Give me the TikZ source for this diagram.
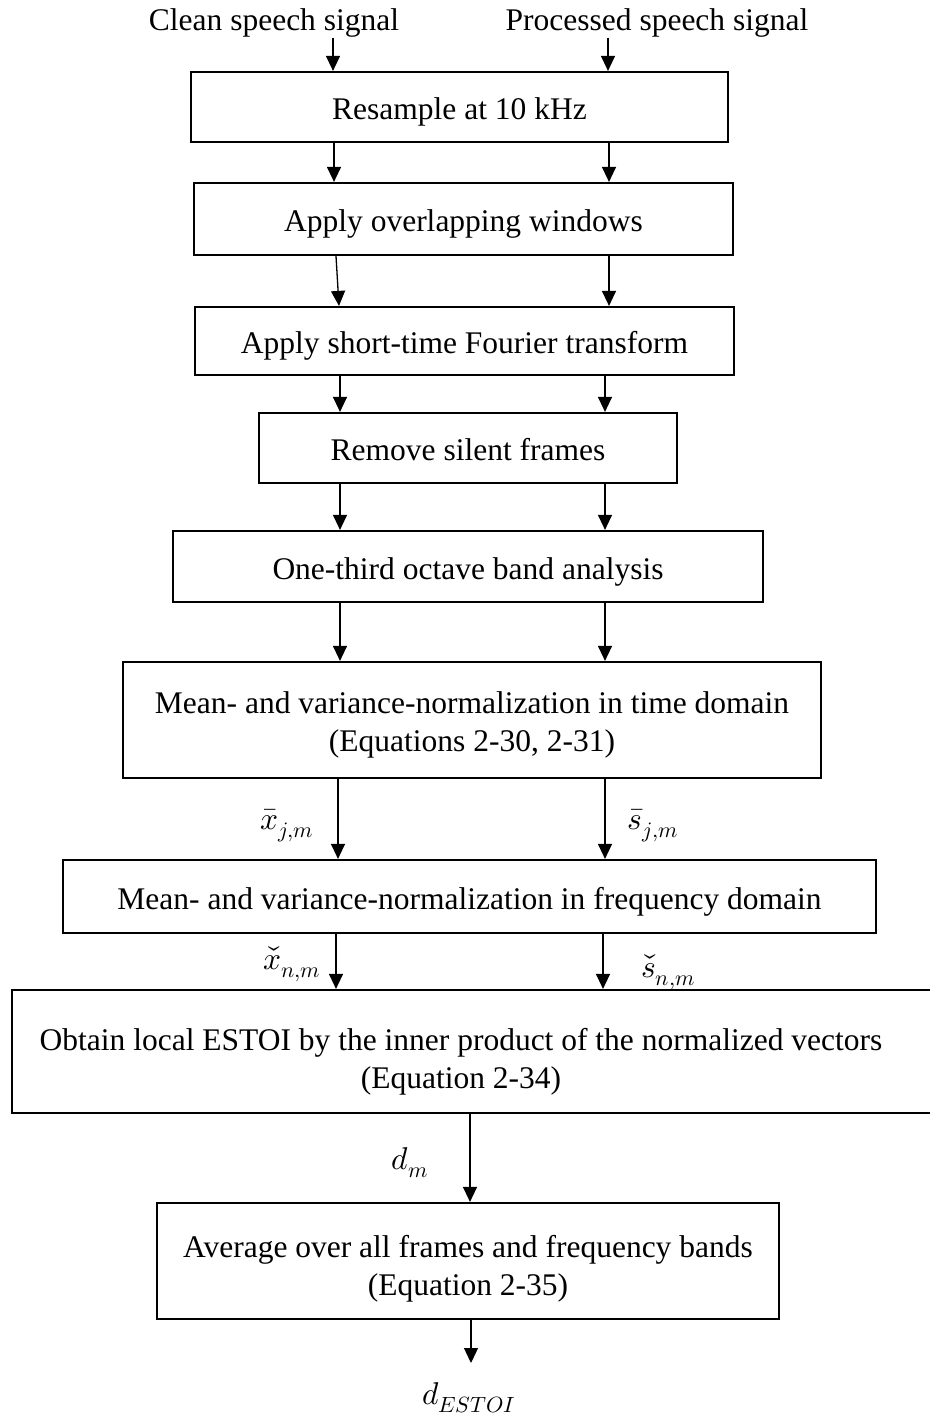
\documentclass[tikz,border=0pt]{standalone}
\usepackage{fontspec}
\usepackage{unicode-math}
\setmainfont{Liberation Serif}
\setmathfont{Latin Modern Math}
\usetikzlibrary{arrows.meta}

\begin{document}
\begin{tikzpicture}[x=1pt,y=-1pt,
  every node/.style={font=\fontsize{31.5}{36}\selectfont, inner sep=0pt},
  box/.style={draw, line width=2.2pt, rectangle, align=center,
              text height=29pt, text depth=4pt},
  frame/.style={draw, line width=2.2pt, rectangle},
  twoline/.style={align=center, font=\fontsize{31.5}{38}\selectfont},
  arr/.style={line width=1.3pt, -{Triangle[length=15pt,width=14pt]}}
]
\useasboundingbox (0,0) rectangle (929,1418);

% inputs
\node (in1) at (274,23) {Clean speech signal};
\node (in2) at (657,23) {Processed speech signal};

% processing stages
\node[box, minimum width=537pt, minimum height=70pt] (b1) at (459.5,107) {Resample at 10 kHz};
\node[box, minimum width=539pt, minimum height=72pt] (b2) at (463.5,219) {Apply overlapping windows};
\node[box, minimum width=539pt, minimum height=68pt] (b3) at (464.5,341) {Apply short-time Fourier transform};
\node[box, minimum width=418pt, minimum height=70pt] (b4) at (468,448) {Remove silent frames};
\node[box, minimum width=590pt, minimum height=71pt] (b5) at (468,566.5) {One-third octave band analysis};
\node[frame, minimum width=698pt, minimum height=116pt] (b6) at (472,720) {};
\node[twoline] (t6) at (b6.center) [yshift=-5pt] {Mean- and variance-normalization in time domain\\(Equations 2-30, 2-31)};
\node[box, minimum width=813pt, minimum height=73pt] (b7) at (469.5,896.5) {Mean- and variance-normalization in frequency domain};
\node[frame, minimum width=934pt, minimum height=123pt] (b8) at (479,1051.5) {};
\node[twoline] (t8) at (461,1062) {Obtain local ESTOI by the inner product of the normalized vectors\\(Equation 2-34)};
\node[frame, minimum width=622pt, minimum height=116pt] (b9) at (468,1261) {};
\node[twoline] (t9) at (b9.center) [yshift=-8pt] {Average over all frames and frequency bands\\(Equation 2-35)};

% signal labels
\node (xbar) at (287,826) {$\bar{x}_{j,m}$};
\node (sbar) at (653,826) {$\bar{s}_{j,m}$};
\node (xchk) at (292,964) {$\check{x}_{n,m}$};
\node (schk) at (668,972) {$\check{s}_{n,m}$};
\node (dm) at (410,1163) {$d_{m}$};
\node (out) at (469,1398) {$d_{ESTOI}$};
\coordinate (end) at (471,1363);

% connectors
\draw[arr] (in1.south -| 333,0) -- (b1.north -| 333,0);
\draw[arr] (in2.south -| 608,0) -- (b1.north -| 608,0);
\draw[arr] (b1.south -| 334,0) -- (b2.north -| 334,0);
\draw[arr] (b1.south -| 609,0) -- (b2.north -| 609,0);
\draw[arr] (b2.south -| 336,0) -- (b3.north -| 339,0);
\draw[arr] (b2.south -| 609,0) -- (b3.north -| 609,0);
\draw[arr] (b3.south -| 340,0) -- (b4.north -| 340,0);
\draw[arr] (b3.south -| 605,0) -- (b4.north -| 605,0);
\draw[arr] (b4.south -| 340,0) -- (b5.north -| 340,0);
\draw[arr] (b4.south -| 605,0) -- (b5.north -| 605,0);
\draw[arr] (b5.south -| 340,0) -- (b6.north -| 340,0);
\draw[arr] (b5.south -| 605,0) -- (b6.north -| 605,0);
\draw[arr] (b6.south -| 338,0) -- (b7.north -| 338,0);
\draw[arr] (b6.south -| 605,0) -- (b7.north -| 605,0);
\draw[arr] (b7.south -| 336,0) -- (b8.north -| 336,0);
\draw[arr] (b7.south -| 603,0) -- (b8.north -| 603,0);
\draw[arr] (b8.south -| 470,0) -- (b9.north -| 470,0);
\draw[arr] (b9.south -| end) -- (end);
\end{tikzpicture}
\end{document}
